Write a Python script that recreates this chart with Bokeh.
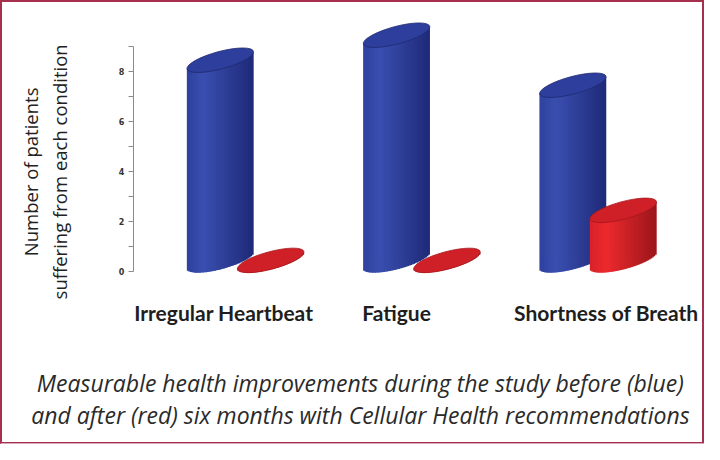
import numpy as np
from bokeh.plotting import figure
from bokeh.models import LinearAxis, FixedTicker, Range1d, Span, ColumnDataSource
from bokeh.core.properties import value
from bokeh.embed import file_html
from bokeh.resources import INLINE

# ---- data ----
categories = ["Irregular Heartbeat", "Fatigue", "Shortness of Breath"]
before = [8, 9, 7]     # blue
after = [0, 0, 2]      # red
y_ticks = [0, 2, 4, 6, 8]
y_minor = [1, 3, 5, 7, 9]
y_title = ["Number of patients", "suffering from each condition"]
caption = ["Measurable health improvements during the study before (blue)",
           "and after (red) six months with Cellular Health recommendations"]

# ---- layout helpers (reference pixel -> data) ----
W, H = 704, 444
SX, SY = 704 / 716, 444 / 456
PXU = 179.3 * SX           # px per category step
PYU = 25.7 * SY            # px per value unit
X0 = (225.5 - 2) * SX      # px of first category
Y0 = (280.5 - 2) * SY      # px (from top) of value 0


def rx(px):
    return ((px - 2) * SX - X0) / PXU


def ry(py):
    return (Y0 - (py - 2) * SY) / PYU


cat_x = np.arange(len(categories), dtype=float)
red_off = 0.286
body_w = 0.374
body_px = body_w * PXU
base = 0.45
ell_w, ell_h, ell_ang = 68.8, 17.5, np.deg2rad(15)

p = figure(width=W, height=H,
           x_range=Range1d(-X0 / PXU, (W - X0) / PXU),
           y_range=Range1d(-(H - Y0) / PYU, Y0 / PYU),
           output_backend="svg", toolbar_location=None,
           x_axis_location=None, y_axis_location=None, min_border=0)
p.outline_line_color = "#a8304f"
p.outline_line_width = 3
p.background_fill_color = "white"
p.border_fill_color = "white"
p.xgrid.grid_line_color = None
p.ygrid.grid_line_color = None

# y axis
yaxis = LinearAxis(fixed_location=rx(137),
                   ticker=FixedTicker(ticks=y_ticks, minor_ticks=y_minor),
                   bounds=(0, 9))
yaxis.major_tick_in = 0
yaxis.major_tick_out = 5
yaxis.minor_tick_in = 0
yaxis.minor_tick_out = 5
for a in ("axis_line_color", "major_tick_line_color", "minor_tick_line_color"):
    setattr(yaxis, a, "#8c8c8c")
yaxis.major_label_text_font = "DejaVu Sans"
yaxis.major_label_text_font_size = "8px"
yaxis.major_label_text_font_style = "bold"
yaxis.major_label_text_color = "#333333"
yaxis.major_label_standoff = 4
p.add_layout(yaxis, "left")


def hexmix(c1, c2, t):
    a = np.array([int(c1[i:i + 2], 16) for i in (1, 3, 5)])
    b = np.array([int(c2[i:i + 2], 16) for i in (1, 3, 5)])
    c = (a + (b - a) * t).round().astype(int)
    return "#%02x%02x%02x" % tuple(c)


def ellipse_rows(dx):
    """lower boundary and mid-line (px, y up) of the tilted ellipse at offset dx"""
    a, b = ell_w / 2, ell_h / 2
    ct, st = np.cos(ell_ang), np.sin(ell_ang)
    A = st ** 2 / a ** 2 + ct ** 2 / b ** 2
    B = 2 * dx * ct * st * (1 / a ** 2 - 1 / b ** 2)
    C = dx ** 2 * (ct ** 2 / a ** 2 + st ** 2 / b ** 2) - 1
    disc = max(B * B - 4 * A * C, 0.0)
    mid = -B / (2 * A)
    low = (-B - np.sqrt(disc)) / (2 * A)
    return low, mid


def cylinders(xs, vals, left, light, right, top_col, edge_col):
    n = 44
    sx, sb, st, sc = [], [], [], []
    for k in range(n):
        f = (k + 0.5) / n
        col = hexmix(left, light, f / 0.25) if f < 0.25 else hexmix(light, right, (f - 0.25) / 0.75)
        dx = (f - 0.5) * body_px
        low, mid = ellipse_rows(dx)
        for x, v in zip(xs, vals):
            sx.append(x + (f - 0.5) * body_w)
            sb.append(base + low / PYU)
            st.append(base + v + mid / PYU)
            sc.append(col)
    src = ColumnDataSource(dict(x=sx, bottom=sb, top=st, color=sc))
    p.vbar(x="x", width=body_w / n * 1.6, bottom="bottom", top="top",
           fill_color="color", line_color=None, source=src)
    p.ellipse(x=xs, y=[base + v for v in vals], width=ell_w, height=ell_h,
              width_units="screen", height_units="screen", angle=ell_ang,
              fill_color=top_col, line_color=edge_col, line_width=0.8)


cylinders(list(cat_x), before, "#2f419e", "#3a4fb0", "#1f2a78", "#2e3e9c", "#1f2a70")
cylinders(list(cat_x + red_off), after, "#d8222a", "#ec2a2e", "#9c161b", "#cf2027", "#a5161c")

# category labels
label_shift = [0.02, 0.0, 0.19]
p.text(x=[c + s for c, s in zip(cat_x, label_shift)], y=[ry(322)] * 3, text=categories,
       text_font=value("Lato"), text_font_style="bold", text_font_size="21px",
       text_color="#1e1e1e", text_align="center", text_baseline="middle")

# y-axis title (two rotated lines)
p.text(x=[rx(33), rx(62)], y=[ry(178)] * 2, text=y_title, angle=np.pi / 2,
       text_font=value("Open Sans"), text_font_size="18.5px", text_color="#222222",
       text_align="center", text_baseline="middle")

# caption
p.text(x=[rx(368)] * 2, y=[ry(395), ry(428)], text=caption,
       text_font=value("Open Sans"), text_font_style="italic", text_font_size="23px",
       text_color="#2a2a2a", text_align="center", text_baseline="middle")

p.add_layout(Span(location=p.y_range.start, dimension="width",
                  line_color="#d9a7b6", line_width=3))

open("out.html", "w").write(file_html(p, INLINE))
